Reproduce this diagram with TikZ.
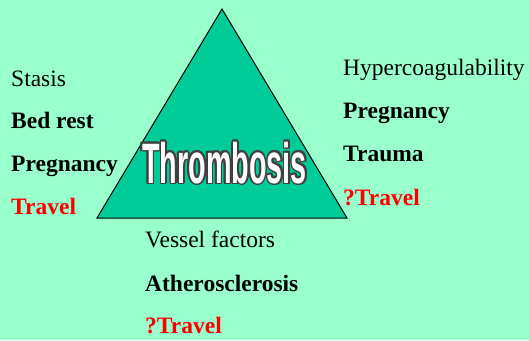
\documentclass[tikz,border=0pt]{standalone}
\usepackage{fontspec}
\setmainfont{Liberation Serif}
\newfontfamily\thfont{Liberation Sans}
\usetikzlibrary{calc}
\definecolor{bgc}{HTML}{99FFCC}
\definecolor{tric}{HTML}{00CC99}
\definecolor{redc}{HTML}{FF0000}
\begin{document}
\begin{tikzpicture}[x=1pt,y=-1pt,
  lbl/.style={anchor=base west, inner sep=0pt, font=\fontsize{23.5}{28}\selectfont},
  itm/.style={lbl, font=\fontsize{23.5}{28}\selectfont\bfseries},
  reditm/.style={itm, text=redc},
  thtext/.style={anchor=base, inner sep=0pt, font=\fontsize{57}{60}\selectfont\thfont\bfseries}]
\fill[bgc] (0,0) rectangle (529,340);
\useasboundingbox (0,0) rectangle (529,340);
\coordinate (A) at (222,9);
\coordinate (B) at (97,218);
\coordinate (C) at (347,218);
\draw[fill=tric, line width=1pt, line join=miter] (A) -- (B) -- (C) -- cycle;
\coordinate (T) at (224.5,183);
\foreach \a [count=\i] in {0,22.5,...,337.5}{
  \node[thtext, text=black!75] (tb\i) at ($(T)+(\a:1.7)$) {\scalebox{0.505}[1]{Thrombosis}};
}
\node[thtext, text=white] (th) at (T) {\scalebox{0.505}[1]{Thrombosis}};
% left
\node[lbl] (s1) at (11,86) {Stasis};
\node[itm] (s2) at (11,128) {Bed rest};
\node[itm] (s3) at (11,171) {Pregnancy};
\node[reditm] (s4) at (11,214) {Travel};
% right
\node[lbl] (h1) at (343,75) {Hypercoagulability};
\node[itm] (h2) at (343,118) {Pregnancy};
\node[itm] (h3) at (343,161) {Trauma};
\node[reditm] (h4) at (343,205) {?Travel};
% bottom
\node[lbl] (v1) at (145,247) {Vessel factors};
\node[itm] (v2) at (145,291) {Atherosclerosis};
\node[reditm] (v3) at (145,333) {?Travel};
\end{tikzpicture}
\end{document}
